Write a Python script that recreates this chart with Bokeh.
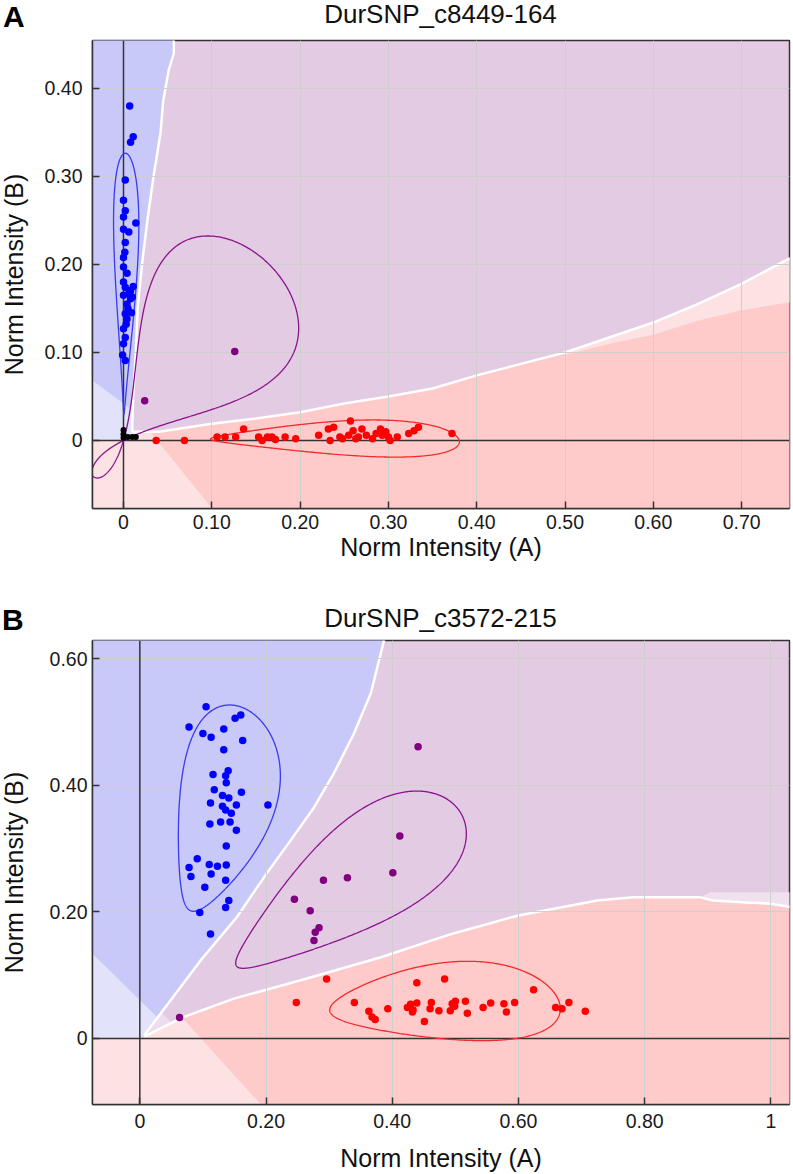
import numpy as np
from bokeh.plotting import figure
from bokeh.models import Span, FixedTicker, CustomJSTickFormatter, Div
from bokeh.layouts import column
from bokeh.embed import file_html
from bokeh.resources import INLINE

# ---------------- Panel A data ----------------
A_title = "DurSNP_c8449-164"
A_letter = "A"
A_xrange = (-0.0351, 0.7542)
A_yrange = (-0.0773, 0.4545)
A_xticks = [0, 0.1, 0.2, 0.3, 0.4, 0.5, 0.6, 0.7]
A_yticks = [0, 0.1, 0.2, 0.3, 0.4]

A_blue_x = [0.007, 0.011, 0.008, 0.002, 0.0, 0.002, 0.0, 0.014, 0.0, 0.006, 0.002, 0.0015, 0.0, 0.0,
            0.004, 0.0, 0.002, 0.006, 0.0, 0.008, 0.004, 0.002, 0.004, 0.0, 0.002, 0.0, -0.001, 0.002,
            0.008, 0.010, 0.005, 0.003, 0.009, 0.011]
A_blue_y = [0.380, 0.345, 0.339, 0.296, 0.273, 0.261, 0.254, 0.247, 0.240, 0.237, 0.225, 0.214, 0.208, 0.197,
            0.190, 0.180, 0.174, 0.167, 0.165, 0.161, 0.155, 0.144, 0.138, 0.127, 0.117, 0.110, 0.097, 0.091,
            0.170, 0.163, 0.150, 0.132, 0.145, 0.175]
A_red_x = [0.037, 0.069, 0.106, 0.115, 0.127, 0.136, 0.153, 0.157, 0.163, 0.168, 0.172, 0.183, 0.195,
           0.221, 0.232, 0.238, 0.234, 0.245, 0.248, 0.255, 0.257, 0.26, 0.263, 0.266, 0.27, 0.275, 0.282,
           0.286, 0.291, 0.293, 0.297, 0.30, 0.302, 0.31, 0.323, 0.329, 0.334, 0.372]
A_red_y = [0.0, 0.0, 0.004, 0.004, 0.004, 0.013, 0.004, 0.0, 0.004, 0.004, 0.001, 0.004, 0.002,
           0.006, 0.013, 0.015, 0.0, 0.004, 0.002, 0.006, 0.022, 0.011, 0.002, 0.004, 0.013, 0.006, 0.002,
           0.008, 0.013, 0.006, 0.010, 0.004, 0.0, 0.004, 0.008, 0.011, 0.015, 0.008]
A_purple_x = [0.126, 0.024]
A_purple_y = [0.101, 0.045]
A_black_x = [0.0, 0.0, 0.0, 0.005, 0.010, 0.014]
A_black_y = [0.012, 0.007, 0.003, 0.004, 0.004, 0.004]

# cluster ellipses in (theta, R) space: centre theta, half theta, centre R, half R
A_clusters = {"blue": (0.99, 0.042, 0.18, 0.15),
              "purple": (0.56, 0.345, 0.145, 0.22),
              "red": (0.008, 0.05, 0.241, 0.141)}

# region boundaries
A_bp_x = [0.057, 0.057, 0.057, 0.051, 0.045, 0.042, 0.034, 0.027, 0.021, 0.016, 0.014, 0.011, 0.010, 0.010]
A_bp_y = [0.50, 0.455, 0.44, 0.42, 0.386, 0.35, 0.30, 0.25, 0.20, 0.15, 0.10, 0.05, 0.02, 0.010]
A_pr_x = [0.010, 0.04, 0.10, 0.15, 0.20, 0.25, 0.30, 0.35, 0.40, 0.45, 0.50, 0.55, 0.60, 0.65, 0.70, 0.76]
A_pr_y = [0.010, 0.010, 0.019, 0.025, 0.032, 0.042, 0.050, 0.059, 0.074, 0.087, 0.10, 0.117, 0.134, 0.155, 0.178, 0.21]
A_band_low_x = [0.50, 0.55, 0.60, 0.65, 0.70, 0.76]
A_band_low_y = [0.097, 0.11, 0.12, 0.136, 0.148, 0.158]
A_lowblue_x = [-0.05, -0.05, 0.0, 0.010, 0.010]
A_lowblue_y = [0.0, 0.079, 0.042, 0.034, 0.0]
A_lowpink_x = [-0.05, -0.05, 0.0, 0.010, 0.030, 0.038, 0.10, 0.119]
A_lowpink_y = [-0.1, 0.0, 0.0, 0.010, 0.010, 0.0, -0.077, -0.1]

# ---------------- Panel B data ----------------
B_title = "DurSNP_c3572-215"
B_letter = "B"
B_xrange = (-0.0750, 1.0296)
B_yrange = (-0.1043, 0.6288)
B_xticks = [0, 0.2, 0.4, 0.6, 0.8, 1]
B_yticks = [0, 0.2, 0.4, 0.6]

B_blue_x = [0.105, 0.078, 0.10, 0.113, 0.133, 0.151, 0.16, 0.163, 0.133, 0.14, 0.136, 0.116, 0.137, 0.118,
            0.131, 0.141, 0.161, 0.112, 0.131, 0.136, 0.145, 0.153, 0.203, 0.111, 0.128, 0.143, 0.153, 0.137,
            0.091, 0.078, 0.11, 0.123, 0.137, 0.081, 0.113, 0.136, 0.103, 0.141, 0.136, 0.095, 0.112]
B_blue_y = [0.524, 0.492, 0.482, 0.476, 0.489, 0.506, 0.511, 0.471, 0.456, 0.423, 0.415, 0.417, 0.404, 0.393,
            0.384, 0.38, 0.389, 0.372, 0.367, 0.361, 0.356, 0.369, 0.369, 0.339, 0.342, 0.342, 0.329, 0.304,
            0.284, 0.27, 0.275, 0.272, 0.274, 0.256, 0.26, 0.25, 0.239, 0.218, 0.207, 0.199, 0.165]
B_purple_x = [0.441, 0.412, 0.401, 0.329, 0.291, 0.245, 0.27, 0.276, 0.278, 0.284, 0.063]
B_purple_y = [0.461, 0.32, 0.262, 0.254, 0.25, 0.22, 0.202, 0.155, 0.168, 0.175, 0.033]
B_red_x = [0.248, 0.296, 0.34, 0.363, 0.368, 0.373, 0.393, 0.424, 0.429, 0.433, 0.439, 0.432, 0.439, 0.451,
           0.46, 0.462, 0.474, 0.483, 0.492, 0.495, 0.499, 0.50, 0.516, 0.519, 0.544, 0.556, 0.577, 0.581,
           0.594, 0.624, 0.659, 0.669, 0.68, 0.706]
B_red_y = [0.057, 0.094, 0.057, 0.043, 0.034, 0.03, 0.047, 0.049, 0.054, 0.045, 0.056, 0.042, 0.088, 0.027,
           0.047, 0.057, 0.044, 0.094, 0.044, 0.055, 0.051, 0.059, 0.059, 0.04, 0.049, 0.056, 0.055, 0.042,
           0.057, 0.077, 0.049, 0.047, 0.057, 0.043]

B_clusters = {"blue": (0.7725, 0.1255, 0.4875, 0.2065),
              "purple": (0.405, 0.12, 0.5675, 0.30),
              "red": (0.078, 0.082, 0.536, 0.194)}

B_bp_x = [0.389, 0.387, 0.379, 0.366, 0.339, 0.307, 0.276, 0.239, 0.197, 0.154, 0.096, 0.007]
B_bp_y = [0.64, 0.629, 0.597, 0.545, 0.481, 0.418, 0.365, 0.313, 0.255, 0.192, 0.123, 0.005]
B_pr_x = [0.007, 0.067, 0.149, 0.255, 0.381, 0.487, 0.598, 0.725, 0.782, 0.888, 0.909, 0.96, 1.0, 1.04]
B_pr_y = [0.003, 0.033, 0.063, 0.092, 0.128, 0.163, 0.194, 0.218, 0.223, 0.223, 0.218, 0.215, 0.213, 0.206]
B_band_x = [0.888, 0.905, 1.04, 1.04, 1.0, 0.96, 0.909]
B_band_y = [0.223, 0.231, 0.231, 0.206, 0.213, 0.215, 0.218]
B_lowblue_x = [-0.08, -0.08, 0.028, 0.007, 0.0]
B_lowblue_y = [0.0, 0.1387, 0.033, 0.005, 0.0]
B_lowpink_x = [-0.08, -0.08, 0.0, 0.007, 0.067, 0.197]
B_lowpink_y = [-0.11, 0.0, 0.0, 0.003, 0.033, -0.11]
B_lowpurple_x = [0.007, 0.034, 0.050]
B_lowpurple_y = [0.004, 0.041, 0.0247]

# ---------------- styles ----------------
C_PURPLE = "#e3cbe3"
C_BLUE = "#c9c9f9"
C_LBLUE = "#e2e2fb"
C_PINK = "#ffcaca"
C_LPINK = "#fde2e3"
C_LPURPLE = "#ecdeee"
C_BAND = "#efe2ee"
PT = {"blue": "#0000ff", "purple": "#800080", "red": "#ff0000"}
CT = {"blue": "#3a3af0", "purple": "#8a148a", "red": "#f22a2a"}
FONT = "Liberation Sans"
SHIFT = 8          # the layout is pulled 8px to the left (negative margin)
FIG_W = 800
LEFT = 92 + SHIFT  # common left border (frames are aligned by the column)


def polar_ellipse(tc, dt, rc, dr, n=500):
    t = np.linspace(0, 2 * np.pi, n)
    th = tc + dt * np.cos(t)
    r = rc + dr * np.sin(t)
    phi = th * np.pi / 2
    c, s = np.cos(phi), np.sin(phi)
    return r * c / (c + s), r * s / (c + s)


def make_header(height, title, title_base, letter, letter_xy):
    # baselines converted to top offsets for line-height = font size (Liberation Sans metrics)
    t_top = title_base - 0.8465 * 26
    l_top = letter_xy[1] - 0.8465 * 30
    cx = 440.5 + SHIFT
    html = (
        f'<div style="position:relative;width:{FIG_W}px;height:{height}px;'
        f"font-family:'{FONT}',Arial,sans-serif;color:#111111;\">"
        f'<span style="position:absolute;left:{letter_xy[0] + SHIFT}px;top:{l_top:.1f}px;'
        f'font-size:30px;line-height:30px;font-weight:bold;color:#000000;white-space:nowrap;">{letter}</span>'
        f'<span style="position:absolute;left:{cx - 250:.1f}px;width:500px;text-align:center;'
        f'top:{t_top:.1f}px;font-size:26px;line-height:26px;white-space:nowrap;">{title}</span>'
        f'</div>'
    )
    return Div(text=html, width=FIG_W, height=height, margin=(0, 0, 0, 0))


def make_panel(xr, yr, fw, fh, top, bottom, xticks, yticks, xl_std, xa_std, yl_std, ya_std):
    right = FIG_W - LEFT - fw
    p = figure(x_range=xr, y_range=yr, frame_width=fw, frame_height=fh,
               min_border_left=LEFT, min_border_top=top, min_border_right=right,
               min_border_bottom=bottom, toolbar_location=None, output_backend="svg",
               background_fill_color=C_PURPLE, border_fill_color="white",
               outline_line_color="#333333", outline_line_width=1.5)
    fmt = CustomJSTickFormatter(code="""
        if (Math.abs(tick) < 1e-9) return "0";
        if (Math.abs(tick - 1) < 1e-9) return "1";
        return tick.toFixed(2);
    """)
    p.xaxis.ticker = FixedTicker(ticks=xticks)
    p.yaxis.ticker = FixedTicker(ticks=yticks)
    p.xgrid.ticker = FixedTicker(ticks=xticks)
    p.ygrid.ticker = FixedTicker(ticks=yticks)
    for ax in (p.xaxis[0], p.yaxis[0]):
        ax.formatter = fmt
        ax.major_tick_in = 7
        ax.major_tick_out = 0
        ax.minor_tick_line_color = None
        ax.axis_line_color = "#333333"
        ax.axis_line_width = 1.5
        ax.major_tick_line_color = "#333333"
        ax.major_tick_line_width = 1.5
        ax.major_label_text_font = FONT
        ax.major_label_text_font_size = "19.5px"
        ax.major_label_text_color = "#1a1a1a"
        ax.axis_label_text_font = FONT
        ax.axis_label_text_font_size = "25px"
        ax.axis_label_text_font_style = "normal"
        ax.axis_label_text_color = "#111111"
    p.xaxis.axis_label = "Norm Intensity (A)"
    p.yaxis.axis_label = "Norm Intensity (B)"
    p.xaxis.major_label_standoff = xl_std
    p.xaxis.axis_label_standoff = xa_std
    p.yaxis.major_label_standoff = yl_std
    p.yaxis.axis_label_standoff = ya_std
    p.grid.grid_line_color = "#cfcfcf"
    p.grid.grid_line_width = 1
    return p


def add_regions(p, blue_xy, red_xy, extra):
    p.patch(blue_xy[0], blue_xy[1], fill_color=C_BLUE, line_color=None, level="image")
    p.patch(red_xy[0], red_xy[1], fill_color=C_PINK, line_color=None, level="image")
    for (xs, ys, col) in extra:
        p.patch(xs, ys, fill_color=col, line_color=None, level="image")


def add_marks(p, clusters, pts):
    p.add_layout(Span(location=0, dimension="height", line_color="#333333", line_width=1.5, level="underlay"))
    p.add_layout(Span(location=0, dimension="width", line_color="#333333", line_width=1.5, level="underlay"))
    for key in ("purple", "blue", "red"):
        ex, ey = polar_ellipse(*clusters[key])
        p.line(ex, ey, line_color=CT[key], line_width=1.3)
    for (xs, ys, col, sz) in pts:
        p.scatter(xs, ys, size=sz, fill_color=col, line_color=None)


# ---------------- Panel A ----------------
hA = make_header(38, A_title, 23, A_letter, (3, 27))
pA = make_panel(A_xrange, A_yrange, 697, 468, 2, 67, A_xticks, A_yticks, 6, 1, 10, 14)
A_blue_poly = ([-0.05, -0.05] + A_bp_x + [0.0], [0.0, 0.50] + A_bp_y + [0.0])
A_red_poly = ([-0.05, -0.05, 0.0] + A_pr_x + [0.76], [-0.1, 0.0, 0.0] + A_pr_y + [-0.1])
A_band_poly = (A_pr_x[10:] + A_band_low_x[::-1], A_pr_y[10:] + A_band_low_y[::-1])
add_regions(pA, A_blue_poly, A_red_poly,
            [(A_band_poly[0], A_band_poly[1], C_LPINK),
             (A_lowblue_x, A_lowblue_y, C_LBLUE),
             (A_lowpink_x, A_lowpink_y, C_LPINK)])
pA.line(A_bp_x, A_bp_y, line_color="white", line_width=2.5, level="image")
pA.line(A_pr_x, A_pr_y, line_color="white", line_width=2.5, level="image")
add_marks(pA, A_clusters,
          [(A_blue_x, A_blue_y, PT["blue"], 7.5), (A_red_x, A_red_y, PT["red"], 7.5),
           (A_purple_x, A_purple_y, PT["purple"], 7.5), (A_black_x, A_black_y, "#000000", 6)])

# ---------------- Panel B ----------------
hB = make_header(63, B_title, 51.5, B_letter, (2, 55))
pB = make_panel(B_xrange, B_yrange, 697, 464, 2, 68, B_xticks, B_yticks, 9, 13, 5, 19)
B_blue_poly = ([-0.08, -0.08] + B_bp_x + [0.0], [0.0, 0.64] + B_bp_y + [0.0])
B_red_poly = ([-0.08, -0.08, 0.0] + B_pr_x + [1.04], [-0.11, 0.0, 0.0] + B_pr_y + [-0.11])
add_regions(pB, B_blue_poly, B_red_poly,
            [(B_band_x, B_band_y, C_BAND),
             (B_lowblue_x, B_lowblue_y, C_LBLUE),
             (B_lowpink_x, B_lowpink_y, C_LPINK),
             (B_lowpurple_x, B_lowpurple_y, C_LPURPLE)])
pB.line(B_bp_x, B_bp_y, line_color="white", line_width=2.5, level="image")
pB.line(B_pr_x, B_pr_y, line_color="white", line_width=2.5, level="image")
add_marks(pB, B_clusters,
          [(B_blue_x, B_blue_y, PT["blue"], 7.5), (B_red_x, B_red_y, PT["red"], 7.5),
           (B_purple_x, B_purple_y, PT["purple"], 7.5)])

layout = column(hA, pA, hB, pB, margin=(0, 0, 0, -SHIFT))
open("out.html", "w").write(file_html(layout, INLINE))
